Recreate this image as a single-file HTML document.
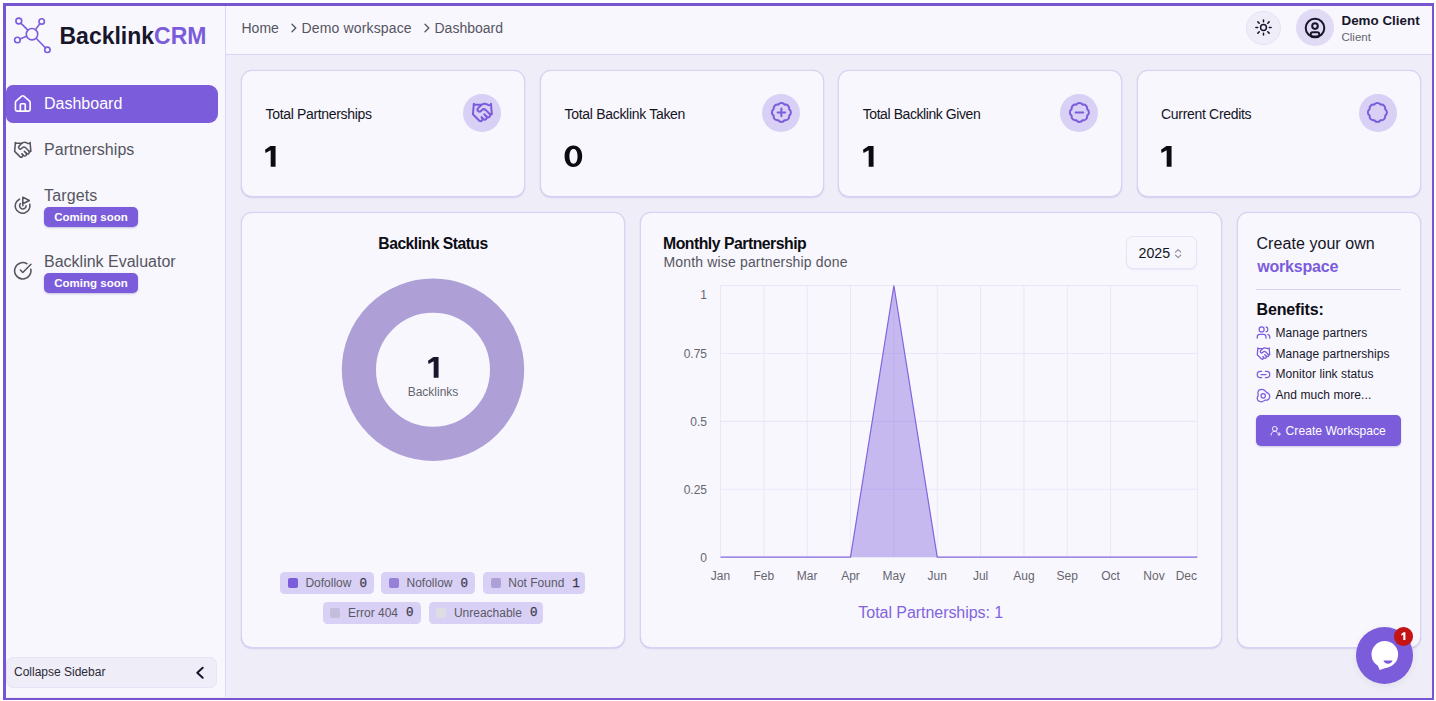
<!DOCTYPE html>
<html lang="en">
<head>
<meta charset="utf-8">
<title>BacklinkCRM - Dashboard</title>
<style>
*{box-sizing:border-box;margin:0;padding:0}
html,body{width:1436px;height:701px;overflow:hidden;background:#fff;font-family:"Liberation Sans",sans-serif;color:#14141f}
.abs{position:absolute}
#frame{position:absolute;left:3px;top:3px;width:1431.2px;height:696.6px;border:3px solid #7556d0;border-right-width:2.6px;border-bottom-width:2.6px;background:#efedf8;overflow:hidden}
/* everything inside #app is positioned in page coordinates */
#app{position:absolute;left:-6px;top:-6px;width:1436px;height:701px}
#sidebar{position:absolute;left:6px;top:6px;width:220px;height:691px;background:#f8f7fd;border-right:1.5px solid #dcd5f6}
#header{position:absolute;left:226px;top:6px;width:1206px;height:48.5px;background:#f8f7fd;border-bottom:1.5px solid #dcd5f6}
.card{position:absolute;background:#f8f7fd;border:1px solid #d9d1f6;border-radius:11px;box-shadow:0 1px 1.500px rgba(100,80,190,.17),0 0 1px rgba(60,50,120,.12)}
.t{position:absolute;white-space:nowrap;line-height:1}
.badge{margin-top:-.4px;height:20px;width:94px;background:#7b5cdb;border-radius:5px;color:#fff;font-size:11.5px;font-weight:700;line-height:20px;text-align:center;box-shadow:0 1px 2px rgba(80,60,160,.3)}
.chip{height:22.2px;background:#d9d0f5;border-radius:4.5px;display:flex;align-items:center;padding-left:7.5px;font-size:12px;color:#5a5a66;white-space:nowrap;line-height:1}
.chip i{display:block;width:10px;height:10px;border-radius:2px;margin-right:7.6px;flex:none}
.chip b{font-family:"Liberation Mono",monospace;font-weight:400;font-size:12.5px;color:#3a3a4c;margin-left:8px;position:relative;top:1.2px;-webkit-text-stroke:.25px #3a3a4c}
#chn4,#chn5{top:.6px}
.xl{top:569.6px;width:40px;text-align:center;font-size:12px;color:#666670}
.yl{left:647px;width:60px;text-align:right;font-size:12px;color:#666670}
</style>
</head>
<body>
<div id="frame"><div id="app">

<!-- SIDEBAR -->
<div id="sidebar"></div>
<!-- logo -->
<svg class="abs" id="logo" style="left:12px;top:14px" width="42" height="42" viewBox="12 14 42 42" fill="none" stroke="#7b5cdb" stroke-width="1.600" stroke-linecap="round">
  <line x1="20.900" y1="23.100" x2="27.900" y2="30.100"/>
  <line x1="39.800" y1="23.700" x2="35.500" y2="29.600"/>
  <line x1="20" y1="38.900" x2="26.600" y2="36.300"/>
  <line x1="36.100" y1="38.300" x2="45.400" y2="47.800"/>
  <circle cx="32" cy="34.200" r="5.700"/>
  <circle cx="18.800" cy="21" r="2.900"/>
  <circle cx="41.700" cy="21.400" r="2.700"/>
  <circle cx="17.400" cy="40" r="2.800"/>
  <circle cx="47.400" cy="49.800" r="2.700"/>
</svg>
<div class="t" id="logotxt" style="left:59.5px;top:24.8px;font-size:23px;font-weight:700;color:#17162b">Backlink<span style="color:#7b5cdb">CRM</span></div>

<!-- nav -->
<div class="abs" id="navact" style="left:6px;top:85px;width:212px;height:37.5px;background:#7b5cdb;border-radius:0 9px 9px 0;border-top-left-radius:7px;border-bottom-left-radius:7px"></div>
<svg class="abs" id="ic-home" style="left:13.200px;top:93.900px" width="19.600" height="19.600" viewBox="0 0 24 24" fill="none" stroke="#fff" stroke-width="2" stroke-linecap="round" stroke-linejoin="round"><path d="M3 10.2a2 2 0 0 1 .7-1.5l7-6a2 2 0 0 1 2.6 0l7 6a2 2 0 0 1 .7 1.5V19a2 2 0 0 1-2 2H5a2 2 0 0 1-2-2z"/><path d="M15 21v-8a1 1 0 0 0-1-1h-4a1 1 0 0 0-1 1v8"/></svg>
<div class="t" id="nav1" style="left:44px;top:96px;font-size:16px;color:#fff">Dashboard</div>

<svg class="abs" id="ic-hand" style="left:13.400px;top:139.500px" width="19.500" height="19.500" viewBox="0 0 24 24" fill="none" stroke="#55555f" stroke-width="1.9" stroke-linecap="round" stroke-linejoin="round"><path d="m11 17 2 2a1 1 0 1 0 3-3"/><path d="m14 14 2.5 2.500a1 1 0 1 0 3-3l-3.880-3.880a3 3 0 0 0-4.240 0l-.88.880a1 1 0 1 1-3-3l2.810-2.810a5.790 5.790 0 0 1 7.060-.870l.47.280a2 2 0 0 0 1.420.250L21 4"/><path d="m21 3 1 11h-2"/><path d="M3 3 2 14l6.500 6.500a1 1 0 1 0 3-3"/><path d="M3 4h8"/></svg>
<div class="t" id="nav2" style="left:44px;top:141.5px;font-size:16px;color:#55555f;letter-spacing:.05px">Partnerships</div>

<svg class="abs" id="ic-target" style="left:13.100px;top:194.900px" width="19.600" height="20.700" viewBox="0 0 24 25" fill="none" stroke="#55555f" stroke-width="1.9" stroke-linecap="round" stroke-linejoin="round"><path d="M12 13V2.500l8 4-8 4"/><path d="M20.560 11.200a9 9 0 1 1-12.550-6.260"/><path d="M15.999 12.900a4 4 0 1 1-6.820-2.700"/></svg>
<div class="t" id="nav3" style="left:44px;top:188px;font-size:16px;color:#55555f;letter-spacing:.15px">Targets</div>
<div class="abs badge" id="bd1" style="left:44px;top:207px">Coming soon</div>

<svg class="abs" id="ic-check" style="left:13.400px;top:261.200px" width="19.600" height="19.600" viewBox="0 0 24 24" fill="none" stroke="#55555f" stroke-width="1.9" stroke-linecap="round" stroke-linejoin="round"><path d="M21.800 10A10 10 0 1 1 17 3.340"/><path d="m9 11 3 3L22 4"/></svg>
<div class="t" id="nav4" style="left:44px;top:254px;font-size:16px;color:#55555f">Backlink Evaluator</div>
<div class="abs badge" id="bd2" style="left:44px;top:273px">Coming soon</div>

<!-- collapse -->
<div class="abs" id="collapse" style="left:6.200px;top:657px;width:211px;height:30.500px;background:#efedf8;border:1px solid #e8e3f7;border-radius:7px"></div>
<div class="t" id="coltxt" style="left:14px;top:666px;font-size:12px;color:#2a2a36">Collapse Sidebar</div>
<svg class="abs" id="ic-chev" style="left:193px;top:665px" width="14" height="16" viewBox="0 0 14 16" fill="none" stroke="#17162b" stroke-width="2" stroke-linecap="round" stroke-linejoin="round"><path d="M9.700 2.800 4.300 7.800l5.400 5"/></svg>

<!-- HEADER -->
<div id="header"></div>
<div class="t" id="bc1" style="left:241.5px;top:20.5px;font-size:14px;color:#55555f">Home</div>
<svg class="abs" id="bcv1" style="left:289px;top:22px" width="10" height="12" viewBox="0 0 10 12" fill="none" stroke="#55555f" stroke-width="1.3" stroke-linecap="round" stroke-linejoin="round"><path d="M3 2.200 6.800 6 3 9.800"/></svg>
<div class="t" id="bc2" style="left:301.5px;top:20.5px;font-size:14px;color:#55555f;letter-spacing:.15px">Demo workspace</div>
<svg class="abs" id="bcv2" style="left:421.500px;top:22px" width="10" height="12" viewBox="0 0 10 12" fill="none" stroke="#55555f" stroke-width="1.3" stroke-linecap="round" stroke-linejoin="round"><path d="M3 2.200 6.800 6 3 9.800"/></svg>
<div class="t" id="bc3" style="left:434.5px;top:20.5px;font-size:14px;color:#55555f">Dashboard</div>

<div class="abs" id="sunbtn" style="left:1246.3px;top:10.700px;width:34.6px;height:34.6px;border-radius:50%;background:#efedf8;border:1px solid #e7e2f7"></div>
<svg class="abs" id="ic-sun" style="left:1253.700px;top:18.300px" width="19" height="19" viewBox="0 0 24 24" fill="none" stroke="#17162b" stroke-width="1.9" stroke-linecap="round"><circle cx="12" cy="12" r="3.700"/><path d="M12 2.400v2.200M12 19.400v2.200M4.900 4.900l1.700 1.700M17.400 17.400l1.700 1.700M2.400 12h2.200M19.400 12h2.200M6.600 17.400l-1.700 1.700M19.100 4.900l-1.700 1.700"/></svg>
<div class="abs" id="avatar" style="left:1296px;top:8.800px;width:37.600px;height:37.600px;border-radius:50%;background:#e0daf5"></div>
<svg class="abs" id="ic-user" style="left:1303px;top:15.600px" width="24" height="24" viewBox="0 0 24 24" fill="none" stroke="#17162b" stroke-width="2" stroke-linecap="round" stroke-linejoin="round"><circle cx="12" cy="12" r="9.300"/><circle cx="12" cy="10.100" r="2.800"/><rect x="7.700" y="16.300" width="8.600" height="4.200" rx="2.100"/></svg>
<div class="t" id="uname" style="left:1341.5px;top:14px;font-size:13.4px;font-weight:700;color:#17162b">Demo Client</div>
<div class="t" id="urole" style="left:1341.5px;top:32px;font-size:11.5px;color:#666670">Client</div>

<!-- STAT CARDS -->
<div class="card" id="c1" style="left:241.3px;top:70.1px;width:284px;height:127px"></div>
<div class="card" id="c2" style="left:539.7px;top:70.1px;width:284px;height:127px"></div>
<div class="card" id="c3" style="left:838.1px;top:70.1px;width:284px;height:127px"></div>
<div class="card" id="c4" style="left:1136.5px;top:70.1px;width:284px;height:127px"></div>

<!-- STAT CONTENT -->
<div class="t" id="sl1" style="left:265.5px;top:106.5px;font-size:14px;color:#14141f;letter-spacing:-.33px">Total Partnerships</div>
<svg class="abs" id="sv1" style="left:265.4px;top:146.0px" width="11" height="21" viewBox="0 0 11 21"><path d="M10.570 0V20.710H5.690V4.180L.540 6.880L0 3.630L5.420 0Z" fill="#0b0b12"/></svg>
<div class="abs" id="sc1" style="left:463.4px;top:93.9px;width:37.800px;height:37.800px;border-radius:50%;background:#d9d0f5"></div>
<svg class="abs" id="si1" style="left:470.9px;top:101.4px" width="22.800" height="22.800" viewBox="0 0 24 24" fill="none" stroke="#7b5cdb" stroke-width="2.100" stroke-linecap="round" stroke-linejoin="round"><path d="m11 17 2 2a1 1 0 1 0 3-3"/><path d="m14 14 2.500 2.500a1 1 0 1 0 3-3l-3.880-3.880a3 3 0 0 0-4.240 0l-.880.880a1 1 0 1 1-3-3l2.810-2.810a5.790 5.790 0 0 1 7.060-.870l.470.280a2 2 0 0 0 1.420.250L21 4"/><path d="m21 3 1 11h-2"/><path d="M3 3 2 14l6.500 6.500a1 1 0 1 0 3-3"/><path d="M3 4h8"/></svg>
<div class="t" id="sl2" style="left:564.5px;top:106.5px;font-size:14px;color:#14141f;letter-spacing:-.3px">Total Backlink Taken</div>
<svg class="abs" id="sv2" style="left:564px;top:145px" width="19" height="23" viewBox="564 145 19 23"><path fill="#0b0b12" fill-rule="evenodd" d="M573.380 145.600c5.300 0 8.800 4.100 8.800 10.700s-3.500 10.700-8.800 10.700-8.800-4.100-8.800-10.700 3.500-10.700 8.800-10.700Zm.1 3.500c-2.500 0-4.050 2.600-4.050 7.200s1.550 7.400 4.050 7.400 4.050-2.800 4.050-7.400-1.550-7.200-4.050-7.200Z"/></svg>
<div class="abs" id="sc2" style="left:762.2px;top:93.9px;width:37.800px;height:37.800px;border-radius:50%;background:#d9d0f5"></div>
<svg class="abs" id="si2" style="left:769.7px;top:101.4px" width="22.800" height="22.800" viewBox="0 0 24 24" fill="none" stroke="#7b5cdb" stroke-width="2.100" stroke-linecap="round" stroke-linejoin="round"><path d="M3.850 8.620a4 4 0 0 1 4.780-4.770 4 4 0 0 1 6.740 0 4 4 0 0 1 4.780 4.780 4 4 0 0 1 0 6.740 4 4 0 0 1-4.770 4.780 4 4 0 0 1-6.750 0 4 4 0 0 1-4.780-4.770 4 4 0 0 1 0-6.760Z"/><path d="M12 8v8M8 12h8"/></svg>
<div class="t" id="sl3" style="left:862.7px;top:106.5px;font-size:14px;color:#14141f;letter-spacing:-.42px">Total Backlink Given</div>
<svg class="abs" id="sv3" style="left:862.8px;top:146.0px" width="11" height="21" viewBox="0 0 11 21"><path d="M10.570 0V20.710H5.690V4.180L.540 6.880L0 3.630L5.420 0Z" fill="#0b0b12"/></svg>
<div class="abs" id="sc3" style="left:1060.1px;top:93.9px;width:37.800px;height:37.800px;border-radius:50%;background:#d9d0f5"></div>
<svg class="abs" id="si3" style="left:1067.6px;top:101.4px" width="22.800" height="22.800" viewBox="0 0 24 24" fill="none" stroke="#7b5cdb" stroke-width="2.100" stroke-linecap="round" stroke-linejoin="round"><path d="M3.850 8.620a4 4 0 0 1 4.780-4.770 4 4 0 0 1 6.740 0 4 4 0 0 1 4.780 4.780 4 4 0 0 1 0 6.740 4 4 0 0 1-4.770 4.780 4 4 0 0 1-6.750 0 4 4 0 0 1-4.780-4.770 4 4 0 0 1 0-6.760Z"/><path d="M8 12h8"/></svg>
<div class="t" id="sl4" style="left:1161px;top:106.5px;font-size:14px;color:#14141f;letter-spacing:-.31px">Current Credits</div>
<svg class="abs" id="sv4" style="left:1161.2px;top:146.0px" width="11" height="21" viewBox="0 0 11 21"><path d="M10.570 0V20.710H5.690V4.180L.540 6.880L0 3.630L5.420 0Z" fill="#0b0b12"/></svg>
<div class="abs" id="sc4" style="left:1358.9px;top:93.9px;width:37.800px;height:37.800px;border-radius:50%;background:#d9d0f5"></div>
<svg class="abs" id="si4" style="left:1366.4px;top:101.4px" width="22.800" height="22.800" viewBox="0 0 24 24" fill="none" stroke="#7b5cdb" stroke-width="2.100" stroke-linecap="round" stroke-linejoin="round"><path d="M3.850 8.620a4 4 0 0 1 4.780-4.770 4 4 0 0 1 6.740 0 4 4 0 0 1 4.780 4.780 4 4 0 0 1 0 6.740 4 4 0 0 1-4.770 4.780 4 4 0 0 1-6.750 0 4 4 0 0 1-4.780-4.770 4 4 0 0 1 0-6.760Z"/></svg>

<!-- ROW 2 CARDS -->
<div class="card" id="c5" style="left:241.3px;top:211.9px;width:383.7px;height:436.1px"></div>
<div class="card" id="c6" style="left:639.6px;top:211.9px;width:582px;height:436.1px"></div>
<div class="card" id="c7" style="left:1236.5px;top:211.9px;width:184px;height:436.1px"></div>

<!-- BACKLINK STATUS -->
<div class="t" id="bst" style="left:333px;top:236px;width:200px;text-align:center;font-size:15.700px;font-weight:700;color:#0d0d14;letter-spacing:-.5px">Backlink Status</div>
<svg class="abs" id="donut" style="left:333px;top:270px" width="200" height="200" viewBox="333 270 200 200"><circle cx="433" cy="369.700" r="74.100" fill="none" stroke="#aea0d7" stroke-width="34.200"/></svg>
<svg class="abs" id="dnum" style="left:427.5px;top:356.6px" width="11" height="21" viewBox="0 0 11 21"><path d="M10.570 0V20.710H5.690V4.180L.540 6.880L0 3.630L5.420 0Z" fill="#17162b"/></svg>
<div class="t" id="dlab" style="left:383px;top:385.700px;width:100px;text-align:center;font-size:12px;color:#666670">Backlinks</div>

<div class="abs chip" id="ch1" style="left:280.3px;top:571.5px;width:93.3px"><i style="background:#7b5cdb"></i><span id="cht1" style="letter-spacing:0px">Dofollow</span><b id="chn1">0</b></div>
<div class="abs chip" id="ch2" style="left:381.4px;top:571.5px;width:93.9px"><i style="background:#9780da"></i><span id="cht2" style="letter-spacing:0px">Nofollow</span><b id="chn2">0</b></div>
<div class="abs chip" id="ch3" style="left:483.2px;top:571.5px;width:101.8px"><i style="background:#aea0d7"></i><span id="cht3" style="letter-spacing:0px">Not Found</span><b id="chn3">1</b></div>
<div class="abs chip" id="ch4" style="left:322.9px;top:601.9px;width:97.8px"><i style="background:#c4bedd"></i><span id="cht4" style="letter-spacing:0px">Error 404</span><b id="chn4">0</b></div>
<div class="abs chip" id="ch5" style="left:428.8px;top:601.9px;width:114px"><i style="background:#dddde2"></i><span id="cht5" style="letter-spacing:0px">Unreachable</span><b id="chn5">0</b></div>

<!-- MONTHLY PARTNERSHIP -->
<div class="t" id="mpt" style="left:663px;top:236.3px;font-size:15.800px;font-weight:700;color:#0d0d14;letter-spacing:-.5px">Monthly Partnership</div>
<div class="t" id="mps" style="left:663.500px;top:254.7px;font-size:14px;color:#55555f;letter-spacing:.16px">Month wise partnership done</div>
<div class="abs" id="sel" style="left:1125.700px;top:236.200px;width:71.700px;height:33.300px;border:1.3px solid #e8e3f8;border-radius:7px;background:#f8f7fd;box-shadow:0 1px 1.500px rgba(120,95,210,.10)"></div>
<div class="t" id="selt" style="left:1138.500px;top:246.300px;font-size:14.200px;color:#14141f">2025</div>
<svg class="abs" id="selv" style="left:1173px;top:247px" width="10" height="14" viewBox="0 0 10 14" fill="none" stroke="#8a8a94" stroke-width="1.100" stroke-linecap="round" stroke-linejoin="round"><path d="M2.500 5.200 5.100 2.700 7.700 5.200M2.500 8.200 5.100 10.700 7.700 8.200"/></svg>
<svg class="abs" id="chart" style="left:700px;top:280px" width="510" height="285" viewBox="700 280 510 285">
<g stroke="#ebe7fb" stroke-width="1.050" shape-rendering="auto"><line x1="720.50" y1="285.5" x2="720.50" y2="557.2"/><line x1="763.85" y1="285.5" x2="763.85" y2="557.2"/><line x1="807.19" y1="285.5" x2="807.19" y2="557.2"/><line x1="850.54" y1="285.5" x2="850.54" y2="557.2"/><line x1="893.88" y1="285.5" x2="893.88" y2="557.2"/><line x1="937.23" y1="285.5" x2="937.23" y2="557.2"/><line x1="980.57" y1="285.5" x2="980.57" y2="557.2"/><line x1="1023.92" y1="285.5" x2="1023.92" y2="557.2"/><line x1="1067.26" y1="285.5" x2="1067.26" y2="557.2"/><line x1="1110.61" y1="285.5" x2="1110.61" y2="557.2"/><line x1="1197.30" y1="285.5" x2="1197.30" y2="557.2"/><line x1="720.5" y1="285.50" x2="1197.3" y2="285.50"/><line x1="720.5" y1="353.43" x2="1197.3" y2="353.43"/><line x1="720.5" y1="421.35" x2="1197.3" y2="421.35"/><line x1="720.5" y1="489.28" x2="1197.3" y2="489.28"/></g>
<path d="M850.54 557.2 L893.88 285.5 L937.23 557.2 Z" fill="rgba(123,92,219,.40)"/>
<path d="M720.5 557.2 L850.54 557.2 L893.88 285.5 L937.23 557.2 L1197.3 557.2" fill="none" stroke="#8264de" stroke-width="1.200" stroke-linejoin="miter"/>
</svg>
<div class="t yl" id="yl0" style="top:288.8px">1</div><div class="t yl" id="yl1" style="top:348.0px">0.75</div><div class="t yl" id="yl2" style="top:416.0px">0.5</div><div class="t yl" id="yl3" style="top:483.9px">0.25</div><div class="t yl" id="yl4" style="top:551.8px">0</div>
<div class="t xl" id="xl0" style="left:700.5px">Jan</div><div class="t xl" id="xl1" style="left:743.8px">Feb</div><div class="t xl" id="xl2" style="left:787.2px">Mar</div><div class="t xl" id="xl3" style="left:830.5px">Apr</div><div class="t xl" id="xl4" style="left:873.9px">May</div><div class="t xl" id="xl5" style="left:917.2px">Jun</div><div class="t xl" id="xl6" style="left:960.6px">Jul</div><div class="t xl" id="xl7" style="left:1003.9px">Aug</div><div class="t xl" id="xl8" style="left:1047.3px">Sep</div><div class="t xl" id="xl9" style="left:1090.6px">Oct</div><div class="t xl" id="xl10" style="left:1134.0px">Nov</div><div class="t xl" id="xl11" style="left:1157.0px;text-align:right">Dec</div>
<div class="t" id="tot" style="left:780px;top:605.400px;width:301.500px;text-align:center;font-size:16px;color:#8264de;letter-spacing:-.05px">Total Partnerships: 1</div>

<!-- CREATE WORKSPACE -->
<div class="t" id="cw1" style="left:1256.500px;top:235.900px;font-size:16px;color:#14141f;letter-spacing:.06px">Create your own</div>
<div class="t" id="cw2" style="left:1257.200px;top:258.800px;font-size:16px;font-weight:700;color:#7b5cdb;letter-spacing:-.2px">workspace</div>
<div class="abs" id="cwhr" style="left:1256.300px;top:289px;width:144.400px;height:1.200px;background:#d9d1f7"></div>
<div class="t" id="cw3" style="left:1256.500px;top:301.500px;font-size:16px;font-weight:700;color:#0d0d14;letter-spacing:-.15px">Benefits:</div>

<svg class="abs" id="bi0" style="left:1256.200px;top:325.4px" width="15" height="15" viewBox="0 0 24 24" fill="none" stroke="#7b5cdb" stroke-width="2" stroke-linecap="round" stroke-linejoin="round"><path d="M16 21v-2a4 4 0 0 0-4-4H6a4 4 0 0 0-4 4v2"/><circle cx="9" cy="7" r="4"/><path d="M22 21v-2a4 4 0 0 0-3-3.870"/><path d="M16 3.130a4 4 0 0 1 0 7.750"/></svg>
<div class="t" id="bt0" style="left:1275.500px;top:327.1px;font-size:12px;color:#17162b;letter-spacing:.07px">Manage partners</div>
<svg class="abs" id="bi1" style="left:1256.200px;top:346.1px" width="15" height="15" viewBox="0 0 24 24" fill="none" stroke="#7b5cdb" stroke-width="2" stroke-linecap="round" stroke-linejoin="round"><path d="m11 17 2 2a1 1 0 1 0 3-3"/><path d="m14 14 2.500 2.500a1 1 0 1 0 3-3l-3.880-3.880a3 3 0 0 0-4.240 0l-.880.880a1 1 0 1 1-3-3l2.810-2.810a5.790 5.790 0 0 1 7.060-.870l.470.280a2 2 0 0 0 1.420.250L21 4"/><path d="m21 3 1 11h-2"/><path d="M3 3 2 14l6.500 6.500a1 1 0 1 0 3-3"/><path d="M3 4h8"/></svg>
<div class="t" id="bt1" style="left:1275.500px;top:347.8px;font-size:12px;color:#17162b;letter-spacing:.07px">Manage partnerships</div>
<svg class="abs" id="bi2" style="left:1256.200px;top:366.7px" width="15" height="15" viewBox="0 0 24 24" fill="none" stroke="#7b5cdb" stroke-width="2" stroke-linecap="round" stroke-linejoin="round"><path d="M9 17H7A5 5 0 0 1 7 7h2"/><path d="M15 7h2a5 5 0 1 1 0 10h-2"/><path d="M8 12h8"/></svg>
<div class="t" id="bt2" style="left:1275.500px;top:368.4px;font-size:12px;color:#17162b;letter-spacing:.07px">Monitor link status</div>
<svg class="abs" id="bi3" style="left:1256.200px;top:387.6px" width="15" height="15" viewBox="0 0 24 24" fill="none" stroke="#7b5cdb" stroke-width="2" stroke-linecap="round" stroke-linejoin="round"><circle cx="11.500" cy="12.500" r="3.500"/><path d="M3 8c0-3.500 2.500-6 6.500-6 5 0 4.830 3 7.500 5s5 2 5 6c0 4.500-2.500 6.500-7 6.500-2.500 0-2.500 2.500-6 2.500s-7-2-7-5.500c0-3 1.500-3 1.500-5C3.500 10 3 9 3 8Z"/></svg>
<div class="t" id="bt3" style="left:1275.500px;top:389.3px;font-size:12px;color:#17162b;letter-spacing:.07px">And much more...</div>
<div class="abs" id="cwbtn" style="left:1256.300px;top:415.400px;width:144.600px;height:30.300px;border-radius:5px;background:#7b5cdb;box-shadow:0 1px 2px rgba(80,60,160,.25)"></div>
<svg class="abs" id="cwbi" style="left:1270.300px;top:425px" width="11.500" height="11.500" viewBox="0 0 24 24" fill="none" stroke="#fff" stroke-opacity=".9" stroke-width="2" stroke-linecap="round" stroke-linejoin="round"><path d="M2 21a8 8 0 0 1 13.292-6"/><circle cx="10" cy="8" r="5"/><path d="M19 16v6"/><path d="M22 19h-6"/></svg>
<div class="t" id="cwbt" style="left:1285.600px;top:424.800px;font-size:12.100px;color:#fff;letter-spacing:.02px">Create Workspace</div>

<!-- CHAT -->
<div class="abs" id="chat" style="left:1355.900px;top:626.900px;width:56.700px;height:56.700px;border-radius:50%;background:#7b5cdb;box-shadow:0 2px 8px rgba(0,0,0,.06)"></div>
<svg class="abs" id="chati" style="left:1366px;top:636px" width="38" height="38" viewBox="1366 636 38 38"><circle cx="1384.800" cy="654.400" r="13.300" fill="#fff"/><path d="M1377.900 665.700 L1379.700 670.100 L1388.500 667.100 Z" fill="#fff"/><path d="M1383.400 660.500h9.200c-.7 2-2.500 3.300-4.600 3.300s-3.900-1.300-4.600-3.300Z" fill="#7b5cdb"/></svg>
<div class="abs" id="chatb" style="left:1394.200px;top:627px;width:18.700px;height:18.700px;border-radius:50%;background:#c41414"></div>
<svg class="abs" id="chatn" style="left:1398px;top:630px" width="12" height="12" viewBox="1398 630 12 12"><path d="M1403.500 632.300h1.900v7.800h-2.100v-5.300l-2 .8v-1.700z" fill="#fff"/></svg>

</div></div>
</body>
</html>
